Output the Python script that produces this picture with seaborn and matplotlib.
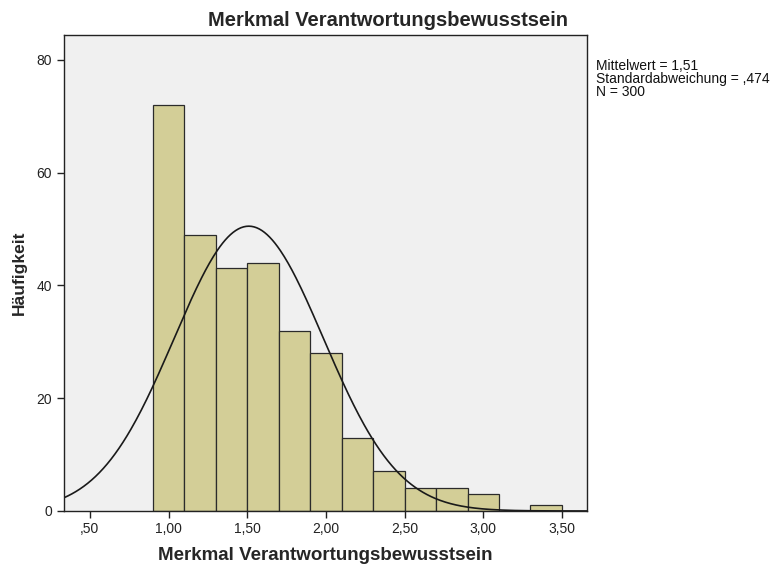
import numpy as np
import pandas as pd
import seaborn as sns
import matplotlib.pyplot as plt

# Histogram bins (width 0.2) and frequencies
bin_edges = [0.9, 1.1, 1.3, 1.5, 1.7, 1.9, 2.1, 2.3, 2.5, 2.7, 2.9, 3.1, 3.3, 3.5]
counts = [72, 49, 43, 44, 32, 28, 13, 7, 4, 4, 3, 0, 1]

mean_val = 1.51
sd_val = 0.474
n_total = 300

x_ticks = [0.5, 1.0, 1.5, 2.0, 2.5, 3.0, 3.5]
x_tick_labels = [",50", "1,00", "1,50", "2,00", "2,50", "3,00", "3,50"]
y_ticks = [0, 20, 40, 60, 80]

sns.set_style("ticks")
plt.rcParams['font.family'] = ['Liberation Sans', 'DejaVu Sans']

fig = plt.figure(figsize=(7.75, 5.68), dpi=100)
ax = fig.add_axes([0.0826, 0.1004, 0.6748, 0.838])
ax.set_facecolor("#F0F0F0")

centers = [(a + b) / 2 for a, b in zip(bin_edges[:-1], bin_edges[1:])]
df = pd.DataFrame({"wert": centers, "n": counts})
sns.histplot(data=df, x="wert", weights="n", bins=bin_edges, ax=ax,
             color="#D3CE97", alpha=1, edgecolor="#2b2b2b", linewidth=0.9)

# normal curve scaled to histogram (N * bin width)
bw = bin_edges[1] - bin_edges[0]
xs = np.linspace(0.336, 3.659, 400)
ys = n_total * bw / (sd_val * np.sqrt(2 * np.pi)) * np.exp(-0.5 * ((xs - mean_val) / sd_val) ** 2)
sns.lineplot(x=xs, y=ys, ax=ax, color="#1a1a1a", linewidth=1.2)

ax.set_xlim(0.336, 3.659)
ax.set_ylim(0, 84.4)
ax.set_xticks(x_ticks)
ax.set_xticklabels(x_tick_labels)
ax.set_yticks(y_ticks)
ax.tick_params(axis="both", direction="out", length=5, width=1, labelsize=10,
               colors="#222222")
ax.tick_params(axis="x", pad=3)
for s in ax.spines.values():
    s.set_color("#222222")
    s.set_linewidth(1)

fig.text(0.5, 1 - 20 / 568, "Merkmal Verantwortungsbewusstsein",
         fontsize=14.5, fontweight="bold", ha="center", va="center")
ax.set_xlabel("Merkmal Verantwortungsbewusstsein", fontsize=13.5, fontweight="bold", labelpad=8)
ax.set_ylabel("Häufigkeit", fontsize=12.5, fontweight="bold", labelpad=7)

fig.text(596 / 775, 1 - 79 / 568,
         "Mittelwert = 1,51\nStandardabweichung = ,474\nN = 300",
         fontsize=10, va="center", ha="left", linespacing=0.88, color="#111111")

fig.savefig("out.png", dpi=100)
